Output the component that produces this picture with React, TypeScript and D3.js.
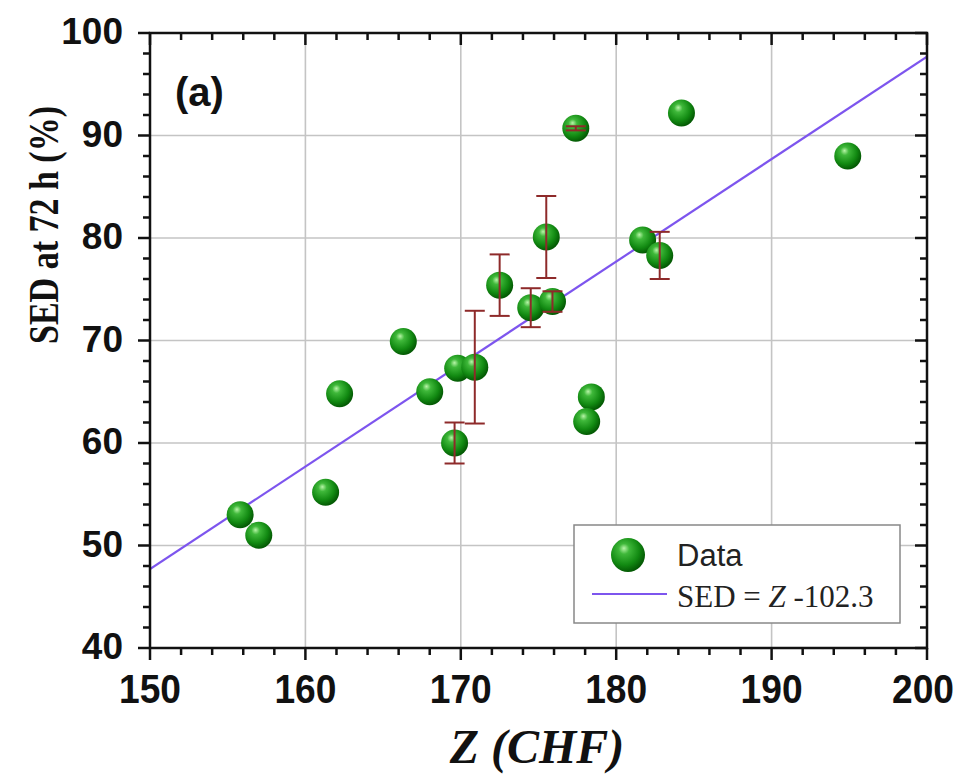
import React from "react";
import * as d3 from "d3";

// values (Z in CHF, SED at 72 h in %)
const zValues = [155.8, 157.0, 161.3, 162.2, 166.3, 168.0, 169.8, 170.9, 169.6, 172.5, 174.5, 175.9, 175.5, 177.4, 184.2, 194.9, 181.7, 182.8, 178.4, 178.1];
const sedValues = [53.0, 51.0, 55.2, 64.8, 69.9, 65.0, 67.3, 67.4, 60.0, 75.4, 73.2, 73.8, 80.1, 90.7, 92.2, 88.0, 79.8, 78.3, 64.5, 62.1];
const sedErrors = [0, 0, 0, 0, 0, 0, 0, 5.5, 2.0, 3.0, 1.9, 1.0, 4.0, 0.2, 0, 0, 0, 2.3, 0, 0];

const xTicks = [150, 160, 170, 180, 190, 200];
const yTicks = [40, 50, 60, 70, 80, 90, 100];
const fitIntercept = -102.3;

const W = 966;
const H = 775;
const margin = { left: 150, right: 39, top: 33, bottom: 127 };

const sans = "'Liberation Sans', Arial, sans-serif";
const serif = "'Liberation Serif', 'Times New Roman', serif";

export default function App() {
  const x = d3.scaleLinear().domain([150, 200]).range([margin.left, W - margin.right]);
  const y = d3.scaleLinear().domain([40, 100]).range([H - margin.bottom, margin.top]);
  const [x0, x1] = x.range();
  const [y0, y1] = y.range();

  const xMinor = d3.range(150, 200.1, 2);
  const yMinor = d3.range(40, 100.1, 2);

  const fitLine = d3
    .line<number>()
    .x((d) => x(d))
    .y((d) => y(d + fitIntercept));

  const points = zValues.map((z, i) => ({ z, sed: sedValues[i], err: sedErrors[i] }));

  const legX = 574;
  const legY = 525;

  return (
    <svg width={W} height={H} style={{ position: "absolute", left: 0, top: 0, background: "#fff" }}>
      <defs>
        <radialGradient id="ball" cx="0.4" cy="0.38" r="0.62" fx="0.38" fy="0.3">
          <stop offset="0" stopColor="#b8f5a8" />
          <stop offset="0.25" stopColor="#3fb83a" />
          <stop offset="0.7" stopColor="#128a12" />
          <stop offset="1" stopColor="#045a04" />
        </radialGradient>
        <clipPath id="plot">
          <rect x={x0} y={y1} width={x1 - x0} height={y0 - y1} />
        </clipPath>
      </defs>

      {/* grid */}
      <g stroke="#c4c4c4" strokeWidth={1.6}>
        {xTicks.slice(1, -1).map((t) => (
          <line key={"gx" + t} x1={x(t)} x2={x(t)} y1={y1} y2={y0} />
        ))}
        {yTicks.slice(1, -1).map((t) => (
          <line key={"gy" + t} x1={x0} x2={x1} y1={y(t)} y2={y(t)} />
        ))}
      </g>

      {/* fit line */}
      <path d={fitLine([150, 200]) || ""} stroke="#7d55ee" strokeWidth={2.2} fill="none" clipPath="url(#plot)" />

      {/* data spheres */}
      <g>
        {points.map((p, i) => (
          <circle key={"p" + i} cx={x(p.z)} cy={y(p.sed)} r={13.5} fill="url(#ball)" />
        ))}
      </g>

      {/* error bars */}
      <g stroke="#8e2a2a" strokeWidth={2} fill="none">
        {points
          .filter((p) => p.err > 0)
          .map((p, i) => {
            const cx = x(p.z);
            const top = y(p.sed + p.err);
            const bot = y(p.sed - p.err);
            return (
              <g key={"e" + i}>
                <line x1={cx} x2={cx} y1={top} y2={bot} />
                <line x1={cx - 10} x2={cx + 10} y1={top} y2={top} />
                <line x1={cx - 10} x2={cx + 10} y1={bot} y2={bot} />
              </g>
            );
          })}
      </g>

      {/* frame and ticks */}
      <g stroke="#111" strokeWidth={2.5}>
        <rect x={x0} y={y1} width={x1 - x0} height={y0 - y1} fill="none" />
        {xMinor.map((t) => {
          const major = xTicks.includes(t);
          const len = major ? 12 : 7;
          return (
            <g key={"xt" + t}>
              <line x1={x(t)} x2={x(t)} y1={y0} y2={y0 + len} />
              <line x1={x(t)} x2={x(t)} y1={y1} y2={y1 + len} />
            </g>
          );
        })}
        {yMinor.map((t) => {
          const major = yTicks.includes(t);
          const len = major ? 12 : 7;
          return (
            <g key={"yt" + t}>
              <line x1={x0 - len} x2={x0} y1={y(t)} y2={y(t)} />
              <line x1={x1 - len} x2={x1} y1={y(t)} y2={y(t)} />
            </g>
          );
        })}
      </g>

      {/* tick labels */}
      <g fontFamily={sans} fontWeight="bold" fill="#111">
        {yTicks.map((t) => (
          <text key={"yl" + t} x={123} y={y(t) + 11} fontSize={37} textAnchor="end">
            {t}
          </text>
        ))}
        {xTicks.map((t) => (
          <text
            key={"xl" + t}
            x={t === 200 ? x(t) - 4 : x(t)}
            y={703}
            fontSize={40}
            textAnchor="middle"
            textLength={62}
            lengthAdjust="spacingAndGlyphs"
          >
            {t}
          </text>
        ))}
      </g>

      {/* axis titles */}
      <text
        transform="translate(58,225) rotate(-90)"
        textAnchor="middle"
        fontFamily={serif}
        fontWeight="bold"
        fontSize={42}
        textLength={238}
        lengthAdjust="spacingAndGlyphs"
        fill="#111"
      >
        SED at 72 h (%)
      </text>
      <text
        x={537}
        y={763}
        textAnchor="middle"
        fontFamily={serif}
        fontWeight="bold"
        fontStyle="italic"
        fontSize={48}
        fill="#111"
      >
        Z (CHF)
      </text>

      {/* panel label */}
      <text x={175} y={106} fontFamily={sans} fontWeight="bold" fontSize={40} fill="#111">
        (a)
      </text>

      {/* legend */}
      <g>
        <rect x={legX} y={legY} width={326} height={98} fill="#fff" stroke="#888" strokeWidth={1.5} />
        <circle cx={628} cy={555} r={17} fill="url(#ball)" />
        <text x={677} y={566} fontFamily={sans} fontSize={31} fill="#222">
          Data
        </text>
        <line x1={592} x2={667} y1={594} y2={594} stroke="#7d55ee" strokeWidth={2.2} />
        <text x={677} y={607} fontFamily={serif} fontSize={31} fill="#222">
          SED = <tspan fontStyle="italic">Z</tspan> -102.3
        </text>
      </g>
    </svg>
  );
}
